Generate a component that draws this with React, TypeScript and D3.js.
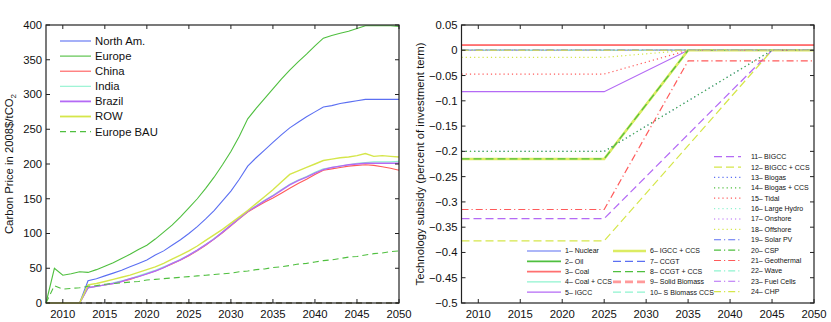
import * as d3 from "d3";
import React, { useEffect, useRef } from "react";

const W = 831;
const H = 322;
const font = "'Liberation Sans', Arial, sans-serif";

// palette (MATLAB-ish pastel cycle)
const palette = ["#5b6ff2", "#4fbf3f", "#ff5a5a", "#8ff3cf", "#b46af5", "#d5e64a"];

// ---- left panel: carbon price ----
const years = d3.range(2008, 2051);
const regionNames = ["North Am.", "Europe", "China", "India", "Brazil", "ROW", "Europe BAU"];
const zeros5 = [0, 0, 0, 0, 0];
const northAm = zeros5.concat([
  32, 35, 39, 43, 47, 52, 57, 62, 69, 75,
  83, 91, 100, 110, 121, 133, 147, 161, 178, 197,
  209, 220, 231, 242, 252, 260, 268, 275, 282, 284,
  287, 289, 291, 293, 293, 293, 293, 293,
]);
const europe = [
  0, 50, 40, 42, 45, 44,
  48, 53, 58, 64, 70, 77, 83, 92, 102, 112,
  124, 137, 150, 165, 181, 199, 218, 240, 265, 280,
  294, 308, 322, 335, 347, 358, 370, 381, 385, 388,
  391, 395, 399, 399, 399, 399, 398,
];
const china = zeros5.concat([
  22, 24, 26, 28, 31, 34, 38, 42, 46, 51,
  56, 62, 68, 75, 83, 92, 101, 111, 121, 131,
  138, 145, 151, 158, 165, 172, 178, 185, 191, 193,
  195, 197, 198, 199, 198, 196, 194, 191,
]);
const india = zeros5.concat([
  22, 24, 26, 29, 32, 35, 39, 43, 47, 52,
  57, 63, 69, 76, 84, 93, 102, 112, 122, 132,
  140, 148, 155, 163, 171, 177, 182, 188, 193, 195,
  197, 199, 201, 202, 203, 203, 203, 204,
]);
const brazil = zeros5.concat([
  22, 24, 26, 28, 31, 35, 38, 42, 46, 51,
  57, 62, 69, 76, 84, 92, 102, 112, 122, 132,
  139, 147, 154, 162, 170, 176, 181, 187, 192, 195,
  197, 199, 200, 201, 201, 201, 201, 201,
]);
const row = zeros5.concat([
  26, 28, 31, 34, 37, 40, 44, 48, 52, 57,
  63, 69, 75, 82, 90, 98, 106, 115, 124, 133,
  143, 153, 163, 174, 185, 190, 195, 200, 205, 207,
  209, 210, 212, 215, 211, 212, 211, 210,
]);
const europeBAU = [
  0, 25, 20, 21, 22, 24, 25, 27, 28, 29, 30, 31, 33, 34, 35, 36, 37, 38,
  39, 40, 41, 42, 43, 45, 46, 48, 49, 51, 52, 54, 56, 57, 59, 61, 62, 64,
  66, 67, 69, 71, 72, 74, 75,
];
const otherBAU = years.map(() => 0);
const regionSeries = [northAm, europe, china, india, brazil, row, europeBAU];

// ---- right panel: technology subsidy ----
const techYears = [2008, 2025, 2035, 2045, 2050];
const techNames = [
  "1– Nuclear", "2– Oil", "3– Coal", "4– Coal + CCS", "5– IGCC", "6– IGCC + CCS",
  "7– CCGT", "8– CCGT + CCS", "9– Solid Biomass", "10– S Biomass CCS", "11– BIGCC", "12– BIGCC + CCS",
  "13– Biogas", "14– Biogas + CCS", "15– Tidal", "16– Large Hydro", "17– Onshore", "18– Offshore",
  "19– Solar PV", "20– CSP", "21– Geothermal", "22– Wave", "23– Fuel Cells", "24– CHP",
];
const techSubsidy = [
  [0, 0, 0, 0, 0],
  [-0.215, -0.215, 0, 0, 0],
  [0.01, 0.01, 0.01, 0.01, 0.01],
  [0, 0, 0, 0, 0],
  [-0.082, -0.082, 0, 0, 0],
  [-0.215, -0.215, 0, 0, 0],
  [0, 0, 0, 0, 0],
  [-0.215, -0.215, 0, 0, 0],
  [0, 0, 0, 0, 0],
  [0, 0, 0, 0, 0],
  [-0.333, -0.333, -0.1665, 0, 0],
  [-0.377, -0.377, -0.1885, 0, 0],
  [-0.2, -0.2, -0.1, 0, 0],
  [-0.2, -0.2, -0.1, 0, 0],
  [-0.047, -0.047, 0, 0, 0],
  [0, 0, 0, 0, 0],
  [0, 0, 0, 0, 0],
  [-0.014, -0.014, 0, 0, 0],
  [0, 0, 0, 0, 0],
  [0, 0, 0, 0, 0],
  [-0.315, -0.315, -0.021, -0.021, -0.021],
  [0, 0, 0, 0, 0],
  [0, 0, 0, 0, 0],
  [0, 0, 0, 0, 0],
];

const dashes = ["", "8,4", "1.2,3", "7,3,1.2,3"];
const techWidth = (i) => (i === 5 || i === 8 ? 2.6 : i === 1 || i === 2 ? 1.7 : 1.2);
const techColor = (i) => (i === 2 ? "#ff7070" : i === 8 ? "#ff9a9a" : i === 5 ? "#dcec62" : palette[i % 6]);

const fmtTick = (v) => (Math.abs(v) < 1e-9 ? "0" : String(+v.toFixed(2)).replace("-", "\u2212"));

function drawBox(g, x, y, yTicks, yFmt) {
  const [x0, x1] = x.range();
  const [y0, y1] = y.range();
  const tl = 4;
  const ax = g.append("g").attr("stroke", "#222").attr("stroke-width", 1);
  x.ticks(9).forEach((t) => {
    ax.append("line").attr("x1", x(t)).attr("x2", x(t)).attr("y1", y0).attr("y2", y0 - tl);
    ax.append("line").attr("x1", x(t)).attr("x2", x(t)).attr("y1", y1).attr("y2", y1 + tl);
  });
  yTicks.forEach((t) => {
    ax.append("line").attr("x1", x0).attr("x2", x0 + tl).attr("y1", y(t)).attr("y2", y(t));
    ax.append("line").attr("x1", x1).attr("x2", x1 - tl).attr("y1", y(t)).attr("y2", y(t));
  });
  ax.append("rect")
    .attr("x", x0).attr("y", y1)
    .attr("width", x1 - x0).attr("height", y0 - y1)
    .attr("fill", "none").attr("stroke-width", 1.2);

  const lab = g.append("g").attr("font-family", font).attr("font-size", 11.3).attr("fill", "#111");
  x.ticks(9).forEach((t) => {
    lab.append("text").attr("x", x(t)).attr("y", y0 + 15).attr("text-anchor", "middle").text(t);
  });
  yTicks.forEach((t) => {
    lab.append("text").attr("x", x0 - 4).attr("y", y(t)).attr("dy", "0.35em")
      .attr("text-anchor", "end").text(yFmt(t));
  });
}

function App() {
  const ref = useRef(null);

  useEffect(() => {
    document.body.style.margin = "0";
    const svg = d3.select(ref.current);
    svg.selectAll("*").remove();

    // left panel
    const xL = d3.scaleLinear().domain([2008, 2050]).range([46, 399]);
    const yL = d3.scaleLinear().domain([0, 400]).range([303, 25]);
    const left = svg.append("g");
    const lineL = d3.line().x((d) => xL(d[0])).y((d) => yL(d[1]));

    left.append("path")
      .attr("d", lineL(years.map((yr, i) => [yr, otherBAU[i]])))
      .attr("fill", "none").attr("stroke", "#6e6a40").attr("stroke-width", 1.6)
      .attr("stroke-dasharray", "6,4");

    regionSeries.forEach((vals, k) => {
      left.append("path")
        .attr("d", lineL(years.map((yr, i) => [yr, vals[i]])))
        .attr("fill", "none")
        .attr("stroke", k === 6 ? palette[1] : palette[k])
        .attr("stroke-width", k === 4 || k === 5 ? 1.4 : 1.1)
        .attr("stroke-dasharray", k === 6 ? "6,4" : null);
    });

    drawBox(left, xL, yL, d3.range(0, 401, 50), (t) => t);

    const legL = left.append("g").attr("font-family", font).attr("font-size", 11.3).attr("fill", "#111");
    regionNames.forEach((name, k) => {
      const ly = 41 + k * 15.1;
      legL.append("line").attr("x1", 60).attr("x2", 91).attr("y1", ly).attr("y2", ly)
        .attr("stroke", k === 6 ? palette[1] : palette[k])
        .attr("stroke-width", k === 4 || k === 5 ? 1.8 : 1.1)
        .attr("stroke-dasharray", k === 6 ? "6,4" : null);
      legL.append("text").attr("x", 95).attr("y", ly).attr("dy", "0.35em").text(name);
    });

    const yLab = left.append("text")
      .attr("transform", `translate(13,${(25 + 303) / 2}) rotate(-90)`)
      .attr("text-anchor", "middle")
      .attr("font-family", font).attr("font-size", 11.3).attr("fill", "#111");
    yLab.append("tspan").text("Carbon Price in 2008$/tCO");
    yLab.append("tspan").attr("font-size", 8).attr("dy", 3).text("2");

    // right panel
    const xR = d3.scaleLinear().domain([2008, 2050]).range([461.5, 814]);
    const yR = d3.scaleLinear().domain([-0.5, 0.05]).range([303, 25]);
    const right = svg.append("g");
    const lineR = d3.line().x((d) => xR(d[0])).y((d) => yR(d[1]));

    techSubsidy.forEach((vals, i) => {
      right.append("path")
        .attr("d", lineR(techYears.map((yr, j) => [yr, vals[j]])))
        .attr("fill", "none")
        .attr("stroke", techColor(i))
        .attr("stroke-width", i === 8 ? 1 : techWidth(i))
        .attr("stroke-dasharray", dashes[Math.floor(i / 6)] || null);
    });
    // coal drawn on top
    right.append("path")
      .attr("d", lineR(techYears.map((yr, j) => [yr, techSubsidy[2][j]])))
      .attr("fill", "none").attr("stroke", techColor(2)).attr("stroke-width", 1.5);

    const yTicksR = d3.range(0, 12).map((k) => +(0.05 - k * 0.05).toFixed(2));
    drawBox(right, xR, yR, yTicksR, fmtTick);

    right.append("text")
      .attr("transform", `translate(424,${(25 + 303) / 2}) rotate(-90)`)
      .attr("text-anchor", "middle")
      .attr("font-family", font).attr("font-size", 11.3).attr("fill", "#111")
      .text("Technology subsidy (percent of investment term)");

    const legR = right.append("g").attr("font-family", font).attr("font-size", 7).attr("fill", "#111");
    techNames.forEach((name, i) => {
      let lx1, lx2, tx, ly;
      if (i < 5) {
        lx1 = 527; lx2 = 561; tx = 565; ly = 251 + i * 10.3;
      } else if (i < 10) {
        lx1 = 613; lx2 = 646; tx = 650; ly = 251 + (i - 5) * 10.3;
      } else {
        lx1 = 714; lx2 = 741; tx = 751; ly = 156.7 + (i - 10) * 10.38;
      }
      legR.append("line").attr("x1", lx1).attr("x2", lx2).attr("y1", ly).attr("y2", ly)
        .attr("stroke", techColor(i))
        .attr("stroke-width", techWidth(i))
        .attr("stroke-dasharray", dashes[Math.floor(i / 6)] || null);
      legR.append("text").attr("x", tx).attr("y", ly).attr("dy", "0.35em").text(name);
    });
  }, []);

  return <svg ref={ref} width={W} height={H} style={{ display: "block", background: "#fff" }}></svg>;
}

export default App;
